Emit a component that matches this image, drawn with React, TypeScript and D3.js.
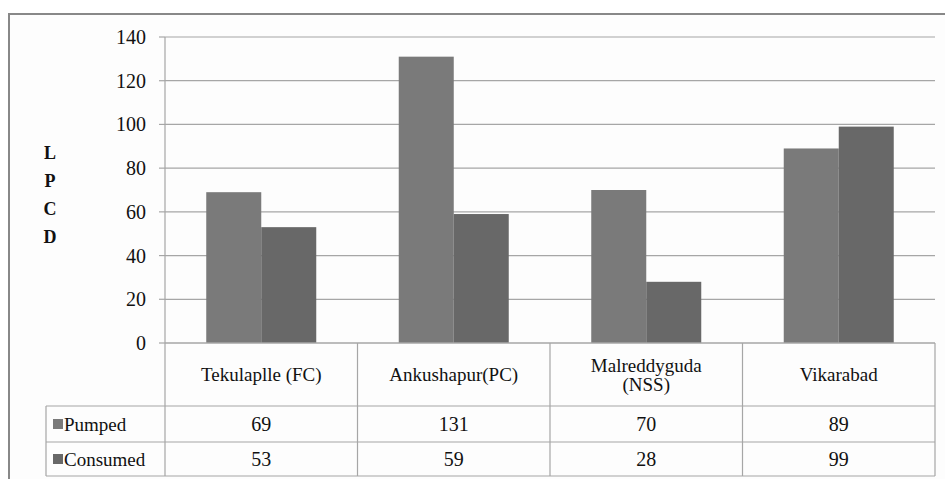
import React from "react";
import * as d3 from "d3";

const categories = ["Tekulaplle (FC)", "Ankushapur(PC)", "Malreddyguda\n(NSS)", "Vikarabad"];
const seriesNames = ["Pumped", "Consumed"];
const pumped = [69, 131, 70, 89];
const consumed = [53, 59, 28, 99];
const yTicks = [0, 20, 40, 60, 80, 100, 120, 140];
const axisTitle = ["L", "P", "C", "D"];

const colors = ["#7a7a7a", "#686868"];

function T(props: any) {
  const { size, children, ...rest } = props;
  return (
    <text fontFamily="Liberation Serif" fill="#111" {...rest} style={{ fontFamily: '"Liberation Serif", "Times New Roman", serif', fontSize: size }}>
      {children}
    </text>
  );
}

export default function App() {
  const W = 945, H = 479;
  const left = 165, right = 935, top = 37, bottom = 343;
  const x0 = d3.scaleBand().domain(categories).range([left, right]).padding(0);
  const x1 = d3.scaleBand().domain(seriesNames).range([0, x0.bandwidth()]).paddingInner(0).paddingOuter(0.75);
  const y = d3.scaleLinear().domain([0, 140]).range([bottom, top]);
  const values = [pumped, consumed];

  const headerBottom = 406;
  const row1Bottom = 442;
  const row2Bottom = 476;
  const tableLeft = 46;
  const lineColor = "#a6a6a6";

  return (
    <svg width={W} height={H} style={{ position: "absolute", left: 0, top: 0, background: "#ffffff" }}>
      <style>{`text, tspan { font-family: "Liberation Serif", "Times New Roman", serif; }`}</style>
      <rect x={9} y={14} width={1000} height={600} fill="#fdfdfd" stroke="#888888" strokeWidth={2} />
      {yTicks.map((t) => (
        <g key={t}>
          {t > 0 && <line x1={left} x2={right} y1={y(t)} y2={y(t)} stroke={lineColor} strokeWidth={1.2} />}
          <line x1={159} x2={left} y1={y(t)} y2={y(t)} stroke={lineColor} strokeWidth={1.2} />
          <T x={146} y={y(t)} dy="0.35em" textAnchor="end" size={20}>{t}</T>
        </g>
      ))}
      <line x1={left} x2={left} y1={top} y2={row2Bottom} stroke={lineColor} strokeWidth={1.2} />
      {categories.map((c, ci) => (
        <g key={c}>
          {seriesNames.map((s, si) => (
            <rect key={s}
              x={(x0(c) ?? 0) + (x1(s) ?? 0)}
              y={y(values[si][ci])}
              width={x1.bandwidth()}
              height={y(0) - y(values[si][ci])}
              fill={colors[si]} />
          ))}
        </g>
      ))}
      <line x1={left} x2={right} y1={bottom} y2={bottom} stroke={lineColor} strokeWidth={1.5} />
      <line x1={tableLeft} x2={right} y1={headerBottom} y2={headerBottom} stroke={lineColor} strokeWidth={1.2} />
      <line x1={tableLeft} x2={right} y1={row1Bottom} y2={row1Bottom} stroke={lineColor} strokeWidth={1.2} />
      <line x1={tableLeft} x2={right} y1={row2Bottom} y2={row2Bottom} stroke={lineColor} strokeWidth={1.2} />
      <line x1={tableLeft} x2={tableLeft} y1={headerBottom} y2={row2Bottom} stroke={lineColor} strokeWidth={1.2} />
      {categories.map((c) => (
        <line key={"v" + c} x1={(x0(c) ?? 0) + x0.bandwidth()} x2={(x0(c) ?? 0) + x0.bandwidth()} y1={bottom} y2={row2Bottom} stroke={lineColor} strokeWidth={1.2} />
      ))}
      {categories.map((c) => {
        const lines = c.split("\n");
        const cx = (x0(c) ?? 0) + x0.bandwidth() / 2;
        const cy = (bottom + headerBottom) / 2;
        const lh = 19;
        return (
          <g key={"t" + c}>
            {lines.map((l, i) => (
              <T key={i} x={cx} y={cy + (i - (lines.length - 1) / 2) * lh} dy="0.35em" textAnchor="middle" size={19}>{l}</T>
            ))}
          </g>
        );
      })}
      {seriesNames.map((s, si) => {
        const rt = si === 0 ? headerBottom : row1Bottom;
        const rb = si === 0 ? row1Bottom : row2Bottom;
        const cy = (rt + rb) / 2;
        return (
          <g key={"r" + s}>
            <rect x={53} y={cy - 5} width={10} height={10} fill={colors[si]} />
            <T x={64} y={cy} dy="0.35em" size={19}>{s}</T>
            {categories.map((c, ci) => (
              <T key={c} x={(x0(c) ?? 0) + x0.bandwidth() / 2} y={cy} dy="0.35em" textAnchor="middle" size={20}>
                {values[si][ci]}
              </T>
            ))}
          </g>
        );
      })}
      {axisTitle.map((ch, i) => (
        <T key={ch} x={50} y={153 + i * 28} dy="0.35em" textAnchor="middle" size={18} fontWeight="bold">{ch}</T>
      ))}
    </svg>
  );
}
